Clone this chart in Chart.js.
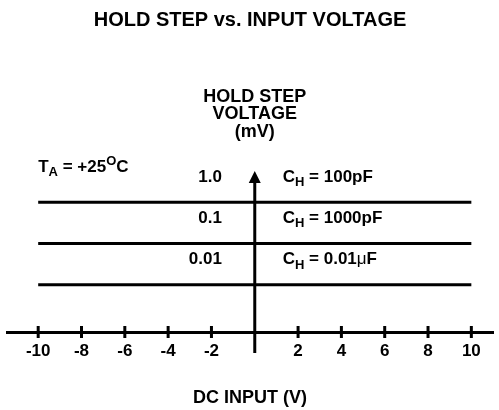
<!DOCTYPE html>
<html lang="en">
<head>
    <meta charset="UTF-8">
    <title>Hold Step vs. Input Voltage</title>
    <script src="https://cdn.jsdelivr.net/npm/chart.js"></script>
    <style>
        html, body { margin: 0; padding: 0; background: #fff; }
        #wrap { width: 499px; height: 410px; }
    </style>
</head>
<body>
    <div id="wrap"><canvas id="holdChart"></canvas></div>

    <script>
        // values
        const xTicks = [-10, -8, -6, -4, -2, 0, 2, 4, 6, 8, 10];
        const inputRange = [-10, 10];              // DC input span of each line (V)
        const stepLevels = [1.0, 0.1, 0.01];       // hold step voltage (mV)
        const levelLabels = ['1.0', '0.1', '0.01'];
        const capValues = ['100pF', '1000pF', '0.01\u03bcF'];

        const FONT = '"Liberation Sans", Arial, Helvetica, sans-serif';

        function drawRich(ctx, parts, x, y, align, size) {
            // parts: {t, sub, sup, thin}
            const fontOf = p => (p.thin ? '' : 'bold ') + ((p.sub || p.sup) ? Math.round(size * 0.76) : size) + 'px ' + FONT;
            const widths = parts.map(p => {
                ctx.font = fontOf(p);
                return ctx.measureText(p.t).width;
            });
            const total = widths.reduce((a, b) => a + b, 0);
            let cx = align === 'right' ? x - total : align === 'center' ? x - total / 2 : x;
            ctx.textAlign = 'left';
            ctx.textBaseline = 'middle';
            parts.forEach((p, i) => {
                ctx.font = fontOf(p);
                const dy = p.sub ? size * 0.32 : p.sup ? -size * 0.35 : 0;
                ctx.fillText(p.t, cx, y + dy);
                cx += widths[i];
            });
        }

        const axesPlugin = {
            id: 'axesPlugin',
            afterDraw(chart) {
                const ctx = chart.ctx;
                const xs = chart.scales.x, ys = chart.scales.y;
                const area = chart.chartArea;
                const x0 = xs.getPixelForValue(0);
                ctx.save();
                ctx.strokeStyle = '#000';
                ctx.fillStyle = '#000';
                ctx.lineWidth = 3;

                // tick marks crossing the x axis
                xs.ticks.forEach(t => {
                    if (t.value === 0) return;
                    const px = xs.getPixelForValue(t.value);
                    ctx.beginPath();
                    ctx.moveTo(px, area.bottom - 6);
                    ctx.lineTo(px, area.bottom + 6);
                    ctx.stroke();
                });

                // vertical axis with arrow
                const top = ys.getPixelForValue(ys.max);
                ctx.beginPath();
                ctx.moveTo(x0, top + 10);
                ctx.lineTo(x0, area.bottom + 21);
                ctx.stroke();
                ctx.beginPath();
                ctx.moveTo(x0, top);
                ctx.lineTo(x0 - 6, top + 12);
                ctx.lineTo(x0 + 6, top + 12);
                ctx.closePath();
                ctx.fill();

                // y axis title
                ctx.font = 'bold 18px ' + FONT;
                ctx.textAlign = 'center';
                ctx.textBaseline = 'middle';
                ['HOLD STEP', 'VOLTAGE', '(mV)'].forEach((s, i) => {
                    ctx.fillText(s, x0, top - 74 + i * 17.5);
                });

                // level and capacitor labels
                stepLevels.forEach((v, i) => {
                    const py = ys.getPixelForValue(v) - 25;
                    ctx.font = 'bold 17px ' + FONT;
                    ctx.textAlign = 'right';
                    ctx.textBaseline = 'middle';
                    ctx.fillText(levelLabels[i], xs.getPixelForValue(-1.52), py);
                    const val = capValues[i];
                    const parts = [{ t: 'C' }, { t: 'H', sub: true }, { t: ' = ' }];
                    const k = val.indexOf('\u03bc');
                    if (k >= 0) {
                        parts.push({ t: val.slice(0, k) }, { t: '\u03bc', thin: true }, { t: val.slice(k + 1) });
                    } else {
                        parts.push({ t: val });
                    }
                    drawRich(ctx, parts, xs.getPixelForValue(1.29), py, 'left', 17);
                });

                // ambient temperature note
                drawRich(ctx, [{ t: 'T' }, { t: 'A', sub: true }, { t: ' = +25' }, { t: 'O', sup: true }, { t: 'C' }],
                    xs.getPixelForValue(inputRange[0]), top - 4, 'left', 17);

                ctx.restore();
            }
        };

        const datasets = stepLevels.map((v, i) => ({
            label: 'CH = ' + capValues[i],
            data: [{ x: inputRange[0], y: v }, { x: inputRange[1], y: v }],
            borderColor: '#000',
            borderWidth: 3,
            pointRadius: 0,
            fill: false
        }));

        const ctx = document.getElementById('holdChart').getContext('2d');
        const chart = new Chart(ctx, {
            type: 'line',
            data: { datasets: datasets },
            options: {
                responsive: true,
                maintainAspectRatio: false,
                animation: false,
                layout: { padding: { left: 7, right: 6, top: 0, bottom: 0 } },
                plugins: {
                    legend: { display: false },
                    tooltip: { enabled: false },
                    title: {
                        display: true,
                        text: 'HOLD STEP vs. INPUT VOLTAGE',
                        color: '#000',
                        font: { family: FONT, size: 20, weight: 'bold' },
                        padding: { top: 8, bottom: 139 }
                    }
                },
                scales: {
                    x: {
                        type: 'linear',
                        min: -11.44,
                        max: 11,
                        afterBuildTicks: s => { s.ticks = xTicks.map(v => ({ value: v })); },
                        border: { display: true, color: '#000', width: 3 },
                        grid: { display: false, drawTicks: false },
                        ticks: {
                            color: '#000',
                            padding: 9,
                            font: { family: FONT, size: 17, weight: 'bold' },
                            callback: v => (v === 0 ? '' : String(v))
                        },
                        title: {
                            display: true,
                            text: 'DC INPUT (V)',
                            color: '#000',
                            font: { family: FONT, size: 18, weight: 'bold' },
                            padding: { top: 16.8, bottom: 1.2 }
                        }
                    },
                    y: {
                        type: 'logarithmic',
                        display: false,
                        min: 0.00071,
                        max: 5.74
                    }
                }
            },
            plugins: [axesPlugin]
        });
    </script>
</body>
</html>
